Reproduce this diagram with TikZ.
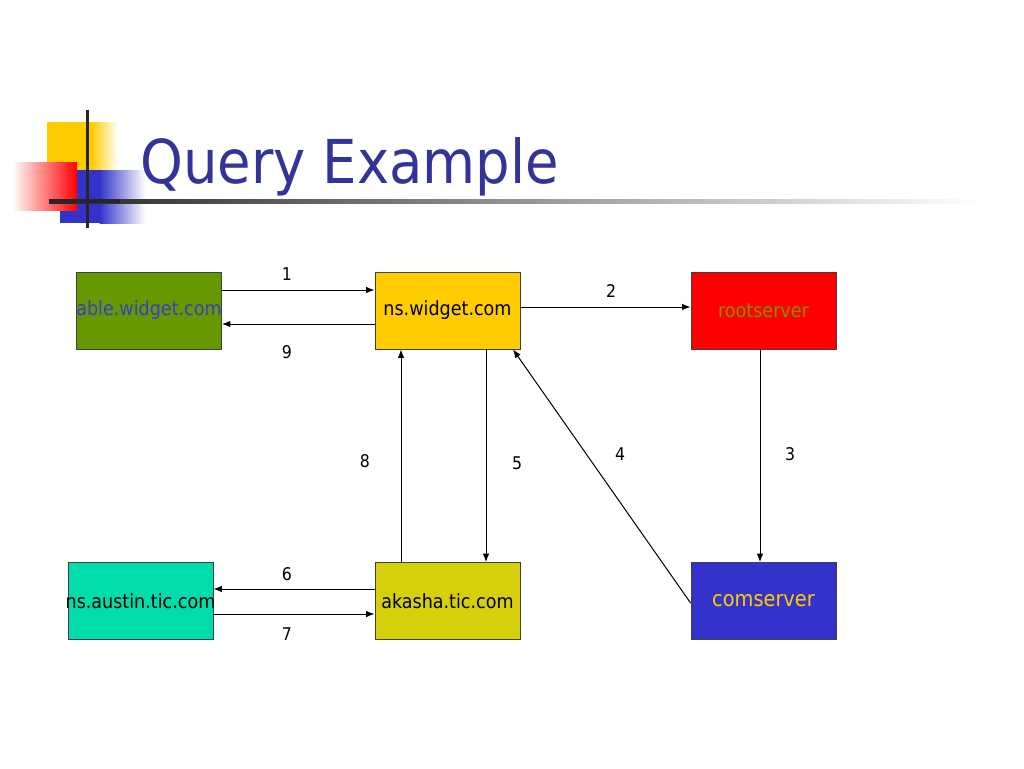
\documentclass[tikz,border=0pt]{standalone}
\usepackage{fontspec}
\setmainfont{DejaVu Sans Condensed}
\usetikzlibrary{arrows.meta}
\definecolor{titleblue}{HTML}{333399}
\definecolor{dgold}{HTML}{FFCC00}
\definecolor{dblue}{HTML}{3333CC}
\definecolor{dgreen}{HTML}{669900}
\definecolor{dteal}{HTML}{00DDAA}
\definecolor{dlime}{HTML}{D6CF0C}
\definecolor{dolive}{HTML}{8C8C00}
\definecolor{ablue}{HTML}{3C3CC8}
\newcommand\zerowd[1]{\makebox[0pt]{#1}}
\tikzset{
  box/.style={draw=black!75, line width=0.8pt, minimum width=145pt, minimum height=77pt, inner sep=0pt, font=\fontsize{19.5}{22}\selectfont},
  arr/.style={line width=1pt, -{Latex[length=8.5pt,width=6.5pt]}},
  num/.style={font=\fontsize{17.5}{20}\selectfont}
}
\begin{document}
\begin{tikzpicture}[x=1pt,y=-1pt]
\useasboundingbox (0,0) rectangle (1024,768);
% decoration
\fill[dgold] (47,122) rectangle (92,171);
\shade[left color=dgold, right color=white] (91.5,122) rectangle (118,171);
\fill[dblue] (60,170) rectangle (100,223);
\shade[left color=dblue, right color=white] (99.5,170) rectangle (145,223);
\shade[left color=red!3, right color=red] (14,162) rectangle (77,210);
\shade[left color=black!85, right color=white] (49,199) rectangle (980,203);
\fill[black!85] (49,199) rectangle (120,203);
\fill[black!85] (85.5,110) rectangle (88.5,228);
\node[anchor=base west, text=titleblue, font=\fontsize{60.5}{70}\selectfont, inner sep=0pt] (title) at (140,183) {Query Example};
% boxes
\node[box, fill=dgreen, text=ablue] (able) at (149,310.5) {\zerowd{able.widget.com}};
\node[box, fill=dgold] (nsw) at (447.5,310.5) {ns.widget.com};
\node[box, fill=red, text=dolive] (root) at (763.5,310.5) {rootserver};
\node[box, fill=dteal] (aus) at (140.5,601) {\zerowd{ns.austin.tic.com}};
\node[box, fill=dlime] (aka) at (447.5,601) {akasha.tic.com};
\node[box, fill=dblue, text=dgold, font=\fontsize{21.5}{24}\selectfont] (com) at (763.5,601) {comserver};
% connectors
\draw[arr] ([yshift=20.5pt]able.east) -- ([yshift=20.5pt]nsw.west);
\draw[arr] ([yshift=-13.5pt]nsw.west) -- ([yshift=-13.5pt]able.east);
\draw[arr] ([yshift=3.5pt]nsw.east) -- ([yshift=3.5pt]root.west);
\draw[arr] ([xshift=-3.5pt]root.south) -- ([xshift=-3.5pt]com.north);
\draw[arr] ([yshift=-2pt]com.west) -- ([xshift=65.5pt]nsw.south);
\draw[arr] ([xshift=38.5pt]nsw.south) -- ([xshift=38.5pt]aka.north);
\draw[arr] ([xshift=-46.5pt]aka.north) -- ([xshift=-46.5pt]nsw.south);
\draw[arr] ([yshift=12pt]aka.west) -- ([yshift=12pt]aus.east);
\draw[arr] ([yshift=-13pt]aus.east) -- ([yshift=-13pt]aka.west);
% labels
\node[num] (n1) at (287,274) {1};
\node[num] (n9) at (287,352) {9};
\node[num] (n2) at (611,291) {2};
\node[num] (n3) at (790,454) {3};
\node[num] (n4) at (620,454) {4};
\node[num] (n5) at (517,463) {5};
\node[num] (n8) at (365,461) {8};
\node[num] (n6) at (287,574) {6};
\node[num] (n7) at (287,634) {7};
\end{tikzpicture}
\end{document}
